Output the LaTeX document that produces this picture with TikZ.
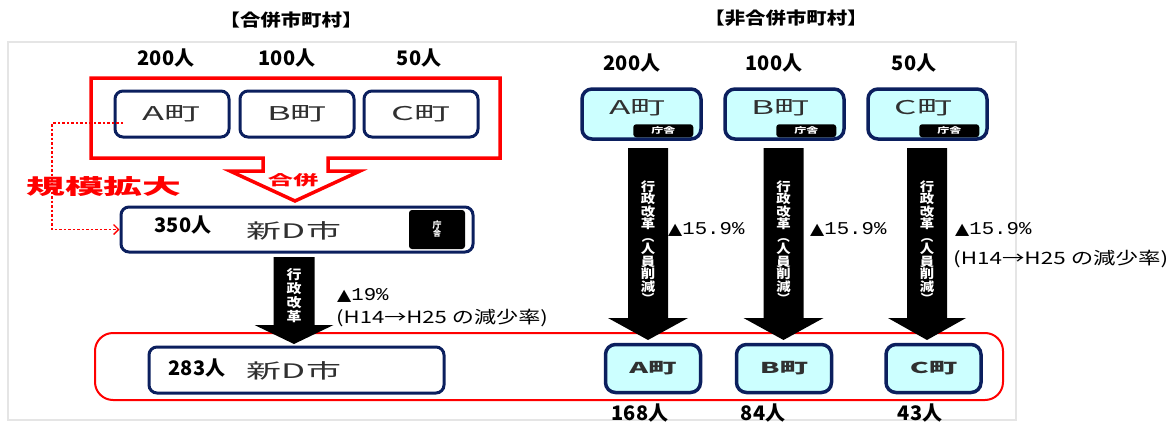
\documentclass[tikz,border=0pt]{standalone}
\usepackage{fontspec}
\setmainfont{Noto Sans CJK JP}
\newfontfamily\monof{Liberation Mono}
\newfontfamily\dejavu{DejaVu Sans}
\usetikzlibrary{arrows.meta,calc}
\definecolor{navy}{HTML}{0B1F5E}
\definecolor{cyanfill}{HTML}{CCFFFF}
\definecolor{txtgray}{HTML}{303030}
\newcommand{\fs}[1]{\fontsize{#1}{#1}\selectfont}
\newcommand{\sx}[2]{\scalebox{#1}[1]{#2}}
\newcommand{\tri}{{\dejavu\fs{16}▲}}
% big black down arrow: center x, top y, base of head y, tip y, half stem, half head
\newcommand{\blkarrow}[6]{%
  \fill[black] (#1-#5,#2) -- (#1+#5,#2) -- (#1+#5,#3) -- (#1+#6,#3) -- (#1,#4)
     -- (#1-#6,#3) -- (#1-#5,#3) -- cycle;}
\begin{document}
\begin{tikzpicture}[x=1pt,y=-1pt,
  pop/.style={font=\fs{20}\bfseries, inner sep=0},
  ttl/.style={font=\fs{17}\bfseries, inner sep=0},
  townbox/.style={draw=navy, line width=3pt, rounded corners=8pt, fill=white,
     minimum width=114pt, minimum height=46pt, inner sep=0,
     font=\fs{19}\color{txtgray}},
  cbox/.style={draw=navy, line width=3.5pt, rounded corners=10pt, fill=cyanfill,
     minimum width=119pt, minimum height=50pt, inner sep=0},
  cbox2/.style={draw=navy, line width=3.5pt, rounded corners=10pt, fill=cyanfill,
     minimum width=95pt, minimum height=48pt, inner sep=0, font=\fs{15}\bfseries\color{txtgray}},
  dbox/.style={draw=navy, line width=3pt, rounded corners=8pt, fill=white, inner sep=0},
  tab/.style={fill=black, rounded corners=3pt, inner sep=0, text=white, font=\fs{8}\bfseries},
  vtxt/.style={align=center, text=white, inner sep=0},
  pct/.style={inner sep=0, anchor=west},
  redt/.style={text=red, inner sep=0, font=\bfseries}
]
\useasboundingbox (0,0) rectangle (1173,423);
\fill[white] (0,0) rectangle (1173,423);

% frame
\draw[gray!20, line width=1.5pt] (8,42) rectangle (1016,420);

% titles
\node[ttl] (t1) at (291,20) {\sx{1.2}{【合併市町村】}};
\node[ttl] (t2) at (786,18) {\sx{1.2}{【非合併市町村】}};

% ---------------- left: merged ----------------
\node[pop] (pa) at (166,58) {200人};
\node[pop] (pb) at (287,58) {100人};
\node[pop] (pc) at (419,58) {50人};

\draw[red, line width=3.5pt, fill=white, line join=miter]
  (91,78) -- (500,78) -- (500,158) -- (328,158) -- (328,171) -- (360,171)
  -- (295,201) -- (230,171) -- (263,171) -- (263,158) -- (91,158) -- cycle;
\node[redt, font=\fs{14}\bfseries] (gp) at (293,180) {\sx{1.8}{合併}};

\node[townbox] (LA) at (172,114) {\sx{1.9}{A町}};
\node[townbox] (LB) at (297,114) {\sx{1.9}{B町}};
\node[townbox] (LC) at (421,114) {\sx{1.9}{C町}};

\node[redt, font=\fs{21}\bfseries] (kb) at (104,187) {\sx{1.85}{規模拡大}};

\node[dbox, minimum width=352pt, minimum height=45pt] (D1) at (297,229.5) {};
\node[tab, minimum width=56pt, minimum height=39pt, align=center] (D1tab) at (437,229.5)
  {\fontsize{9}{10}\selectfont 庁\\舎};
\node[pop] (n350) at (183,225) {350人};
\node[inner sep=0, font=\fs{20}\color{txtgray}] (d1t) at (294,231) {\sx{1.75}{新D市}};

\coordinate (dotstart) at (123,123);
\draw[red, line width=1.6pt, dash pattern=on 2.5pt off 2pt,
      -{Straight Barb[length=5pt,width=10pt,line width=1.3pt]}]
  (dotstart) -- (52,123) |- (D1.west);

% bottom red frame
\draw[red, line width=2pt, rounded corners=18pt] (95,333) rectangle (1003,400);

\node[dbox, minimum width=295pt, minimum height=46pt] (D2) at (296.5,370) {};
\node[pop] (n283) at (197,368) {283人};
\node[inner sep=0, font=\fs{20}\color{txtgray}] (d2t) at (294,371) {\sx{1.75}{新D市}};

\blkarrow{294}{257}{325}{344}{20.5}{39.5}
\node[vtxt, font={\fontsize{13}{14}\selectfont\bfseries}] (gk) at (294,296) {\sx{1.15}{行}\\\sx{1.15}{政}\\\sx{1.15}{改}\\\sx{1.15}{革}};

\node[pct] (p19) at (337,295) {\sx{1.15}{\tri{\monof\fs{18}19\%}}};
\node[pct, font=\fs{17}] (r1) at (336,318) {\sx{1.3}{(H14→H25 の減少率)}};

% ---------------- right: non-merged ----------------
\node[pop] (qa) at (632,63) {200人};
\node[pop] (qb) at (774,63) {100人};
\node[pop] (qc) at (914,63) {50人};

\foreach \n/\x/\c in {RA/641.5/A, RB/784.5/B, RC/927.5/C}{
  \node[cbox] (\n) at (\x,114) {};
  \node[inner sep=0, font=\fs{19}\color{txtgray}] (\n t) at ($(\n.center)+(-4,-6)$) {\sx{1.85}{\c 町}};
  \node[tab, minimum width=60pt, minimum height=13pt] (\n tab) at ($(\n.south east)+(-39.5,-10)$)
     {\sx{1.5}{庁舎}};
}

\blkarrow{648}{148}{318}{340}{20}{40}
\blkarrow{783.5}{148}{318}{340}{20}{40}
\blkarrow{927}{148}{318}{340}{20}{39}

\foreach \x/\n in {648/va, 783.5/vb, 927/vc}{
  \node[vtxt, font={\fontsize{12.5}{12.5}\selectfont\bfseries}] (\n) at (\x,242)
    {\sx{1.15}{行}\\\sx{1.15}{政}\\\sx{1.15}{改}\\\sx{1.15}{革}\\︵\\\sx{1.15}{人}\\\sx{1.15}{員}\\\sx{1.15}{削}\\\sx{1.15}{減}\\︶};
}

\node[pct] (pa1) at (668,229) {\sx{1.15}{\tri{\monof\fs{18}15.9\%}}};
\node[pct] (pb1) at (810,229) {\sx{1.15}{\tri{\monof\fs{18}15.9\%}}};
\node[pct] (pc1) at (955,229) {\sx{1.15}{\tri{\monof\fs{18}15.9\%}}};
\node[pct, font=\fs{17}] (r2) at (953,259) {\sx{1.32}{(H14→H25 の減少率)}};

\node[cbox2] (SA) at (653,368.5) {\sx{1.9}{A町}};
\node[cbox2] (SB) at (784,368.5) {\sx{1.9}{B町}};
\node[cbox2] (SC) at (933.5,368.5) {\sx{1.9}{C町}};

\node[pop] (sa) at (640,413) {168人};
\node[pop] (sb) at (763,413) {84人};
\node[pop] (sc) at (920,413) {43人};
\end{tikzpicture}
\end{document}
